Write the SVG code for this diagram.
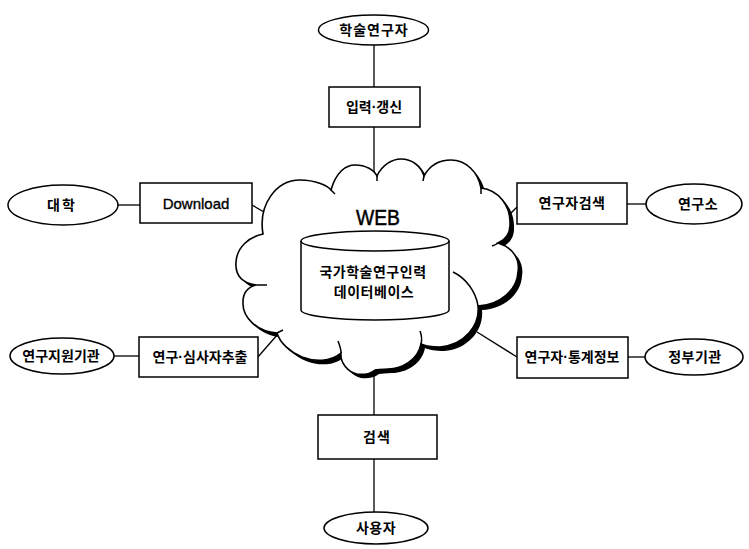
<svg xmlns="http://www.w3.org/2000/svg" width="749" height="549" viewBox="0 0 749 549">
<defs>
<style>
.box{fill:#fff;stroke:#000;stroke-width:1.5}
.ell{fill:#fff;stroke:#000;stroke-width:1.5}
.ln{stroke:#000;stroke-width:1.3;fill:none}
.t{font-family:"Noto Sans CJK KR","Liberation Sans",sans-serif;font-size:14px;font-weight:bold;text-anchor:middle;fill:#000}
.d{font-family:"Liberation Sans",Arial,sans-serif;font-weight:bold}
.e{font-family:"Liberation Sans",Arial,sans-serif;font-size:15px;text-anchor:middle;fill:#000;stroke:#000;stroke-width:0.35}
.tip{fill:none;stroke:#000;stroke-width:1.5}
</style>
<path id="cloudpath" d="M 263,234 C 258,205 276,180 300,180 C 316,180 328,186 331,190 C 336,172 346,165 355,165 C 366,165 374,170 377,176 C 382,165 392,159 401,159 C 412,159 421,166 424,176 C 430,165 440,160 451,160 C 466,160 478,172 481,188 C 498,190 511,205 510,225 C 510,234 505,240 498,243 C 514,248 520,260 518,272 C 517,290 500,305 478,306 C 480,325 465,345 440,347 C 432,347 425,346 421,344 C 418,360 402,369 388,369 C 382,369 378,370 375,370 C 370,374 363,375 357,374 C 348,372 340,363 341,353 C 330,362 315,362 302,357 C 290,352 280,343 277,333 C 258,332 242,318 243,302 C 243,292 249,287 256,285 C 242,283 235,275 236,262 C 237,247 249,237 263,234 Z"/>
</defs>

<g id="connectors">
<line class="ln" x1="374" y1="45" x2="374" y2="87"/>
<line class="ln" x1="374" y1="127" x2="374" y2="177"/>
<line class="ln" x1="374" y1="370" x2="374" y2="415"/>
<line class="ln" x1="374" y1="459" x2="374" y2="512"/>
<line class="ln" x1="118" y1="205" x2="140" y2="205"/>
<line class="ln" x1="252" y1="205" x2="264" y2="212"/>
<line class="ln" x1="627" y1="204" x2="646" y2="204"/>
<line class="ln" x1="517" y1="207" x2="507" y2="217"/>
<line class="ln" x1="114" y1="356" x2="139" y2="356"/>
<line class="ln" x1="257" y1="358" x2="278" y2="334"/>
<line class="ln" x1="628" y1="357" x2="645" y2="357"/>
<line class="ln" x1="517" y1="357" x2="477" y2="332"/>
</g>

<g id="web-cloud">
<use href="#cloudpath" transform="translate(4,4)" fill="#000"/>
<use href="#cloudpath" fill="#fff" stroke="#000" stroke-width="1.6"/>
<path class="tip" d="M 453,272 C 466,278 476,292 478,306"/>
<path class="tip" d="M 420,331 C 422,336 422,340 421,344"/>
<path class="tip" d="M 338,341 C 340,346 341,350 341,353"/>
<path class="tip" d="M 267,285 L 256,285"/>
<path class="tip" d="M 283,330 L 277,333"/>
<path class="tip" d="M 492,246 C 495,245 497,244 498,243"/>
<path class="tip" d="M 331,190 L 335,194"/>
<path class="tip" d="M 377,176 L 377,181"/>
<path class="tip" d="M 424,176 L 423,181"/>
<path class="tip" d="M 481,188 L 481,194"/>
<text x="378" y="225" font-family="Liberation Sans,Arial,sans-serif" font-size="22" text-anchor="middle" textLength="44" lengthAdjust="spacingAndGlyphs" stroke="#000" stroke-width="0.5">WEB</text>
</g>

<g id="database">
<path d="M 301,241 L 301,310 A 74,10 0 0 0 449,310 L 449,241" fill="#fff" stroke="#000" stroke-width="1.5"/>
<ellipse cx="375" cy="241" rx="74" ry="10" fill="#fff" stroke="#000" stroke-width="1.5"/>
<text class="t" x="373" y="277" letter-spacing="0.5">국가학술연구인력</text>
<text class="t" x="374" y="297" letter-spacing="0.5">데이터베이스</text>
</g>

<g id="n-researcher">
<ellipse class="ell" cx="373.5" cy="30" rx="55" ry="15"/>
<text class="t" x="374" y="35" letter-spacing="1">학술연구자</text>
</g>
<g id="n-input">
<rect class="box" x="329" y="87" width="91" height="40"/>
<text class="t" x="374" y="112">입력<tspan class="d">·</tspan>갱신</text>
</g>
<g id="n-univ">
<ellipse class="ell" cx="63" cy="205" rx="55" ry="20"/>
<text class="t" x="62" y="210" letter-spacing="2">대학</text>
</g>
<g id="n-download">
<rect class="box" x="140" y="183" width="112" height="40"/>
<text class="e" x="196" y="209">Download</text>
</g>
<g id="n-search-researcher">
<rect class="box" x="517" y="183" width="110" height="41"/>
<text class="t" x="572" y="208" letter-spacing="0.5">연구자검색</text>
</g>
<g id="n-institute">
<ellipse class="ell" cx="694" cy="204" rx="48" ry="20"/>
<text class="t" x="698" y="209" letter-spacing="0.5">연구소</text>
</g>
<g id="n-funding">
<ellipse class="ell" cx="62" cy="356" rx="52" ry="18"/>
<text class="t" x="61" y="361">연구지원기관</text>
</g>
<g id="n-reviewer">
<rect class="box" x="139" y="337" width="119" height="40"/>
<text class="t" x="200" y="362">연구<tspan class="d">·</tspan>심사자추출</text>
</g>
<g id="n-stats">
<rect class="box" x="517" y="337" width="111" height="41"/>
<text class="t" x="572" y="362">연구자<tspan class="d">·</tspan>통계정보</text>
</g>
<g id="n-gov">
<ellipse class="ell" cx="694" cy="357" rx="49" ry="18"/>
<text class="t" x="695" y="362" letter-spacing="0.5">정부기관</text>
</g>
<g id="n-search">
<rect class="box" x="318" y="415" width="119" height="44"/>
<text class="t" x="377" y="442" letter-spacing="1">검색</text>
</g>
<g id="n-user">
<ellipse class="ell" cx="376" cy="528" rx="52" ry="16"/>
<text class="t" x="376" y="533" letter-spacing="0.5">사용자</text>
</g>
</svg>
